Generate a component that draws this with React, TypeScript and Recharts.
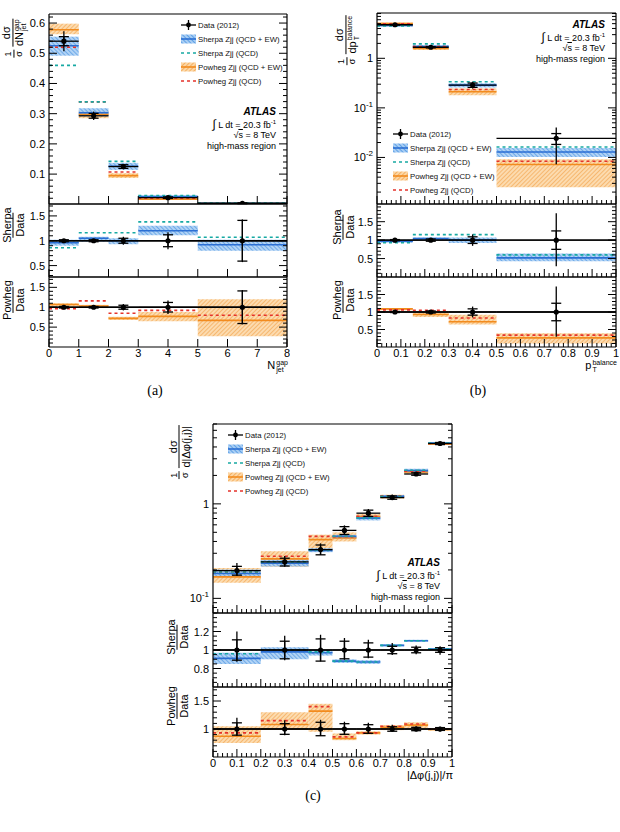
import React from 'react';
import { ComposedChart, XAxis, YAxis, Line, Scatter, ErrorBar, ReferenceArea, ReferenceLine } from 'recharts';

const FONT = '"Liberation Sans", Arial, Helvetica, sans-serif';
const BLUE = '#2b6fd3';
const CYAN = '#17a9a3';
const ORANGE = '#f28b1e';
const RED = '#e5322b';

const legendLabels = ['Data (2012)', 'Sherpa Zjj (QCD + EW)', 'Sherpa Zjj (QCD)', 'Powheg Zjj (QCD + EW)', 'Powheg Zjj (QCD)'];

// ---- (a) N_jet^gap ----
const edgesA = [0, 1, 2, 3, 5, 8];
const xTicksA = [0, 1, 2, 3, 4, 5, 6, 7, 8];
const yTicksA = [0.1, 0.2, 0.3, 0.4, 0.5, 0.6];
const dataA = [0.54, 0.293, 0.125, 0.022, 0.0035];
const errA = [0.033, 0.014, 0.009, 0.004, 0.0015];
const statA = [0.015, 0.008, 0.006, 0.0025, 0.0014];
const sherpaA = [0.525, 0.303, 0.126, 0.026, 0.0032];
const sherpaLoA = [0.492, 0.292, 0.114, 0.023, 0.0028];
const sherpaHiA = [0.555, 0.318, 0.137, 0.029, 0.0036];
const sherpaQcdA = [0.46, 0.339, 0.142, 0.029, 0.0038];
const powhegA = [0.578, 0.298, 0.095, 0.017, 0.0024];
const powhegLoA = [0.563, 0.285, 0.087, 0.0145, 0.001];
const powhegHiA = [0.598, 0.31, 0.103, 0.0195, 0.0042];
const powhegQcdA = [0.52, 0.339, 0.107, 0.0205, 0.0028];
const rErrA = [0.03, 0.03, 0.08, 0.17, 0.43];
const rStatA = [0.02, 0.02, 0.05, 0.12, 0.41];
const rSherpaA = [0.96, 1.05, 1.0, 1.2, 0.92];
const rSherpaLoA = [0.9, 0.98, 0.93, 1.11, 0.8];
const rSherpaHiA = [1.02, 1.08, 1.05, 1.3, 1.02];
const rSherpaQcdA = [0.86, 1.16, 1.16, 1.38, 1.07];
const rPowhegA = [1.07, 1.03, 0.72, 0.77, 0.67];
const rPowhegLoA = [1.02, 1.0, 0.68, 0.65, 0.27];
const rPowhegHiA = [1.1, 1.06, 0.76, 0.88, 1.2];
const rPowhegQcdA = [0.96, 1.16, 0.85, 0.92, 0.8];

// ---- (b) pT balance ----
const edgesB = [0, 0.15, 0.3, 0.5, 1.0];
const xTicksBC = [0, 0.1, 0.2, 0.3, 0.4, 0.5, 0.6, 0.7, 0.8, 0.9, 1];
const yTicksB = [0.01, 0.1, 1];
const dataB = [4.75, 1.67, 0.288, 0.0243];
const errLoB = [0.1, 0.067, 0.043, 0.017];
const errHiB = [0.1, 0.067, 0.049, 0.016];
const statB = [0.07, 0.05, 0.029, 0.006];
const sherpaB = [4.6, 1.72, 0.288, 0.0129];
const sherpaLoB = [4.4, 1.6, 0.258, 0.0102];
const sherpaHiB = [4.85, 1.85, 0.315, 0.0155];
const sherpaQcdB = [4.5, 1.95, 0.337, 0.0162];
const powhegB = [5.0, 1.58, 0.211, 0.0072];
const powhegLoB = [4.75, 1.47, 0.18, 0.0025];
const powhegHiB = [5.25, 1.66, 0.246, 0.0092];
const powhegQcdB = [4.95, 1.72, 0.235, 0.0084];
const rErrLoB = [0.02, 0.04, 0.155, 0.71];
const rErrHiB = [0.02, 0.04, 0.155, 0.73];
const rStatB = [0.015, 0.03, 0.09, 0.25];
const rSherpaB = [0.97, 1.04, 1.0, 0.52];
const rSherpaLoB = [0.93, 1.0, 0.92, 0.43];
const rSherpaHiB = [1.01, 1.07, 1.07, 0.64];
const rSherpaQcdB = [0.93, 1.15, 1.15, 0.6];
const rPowhegB = [1.09, 0.93, 0.72, 0.26];
const rPowhegLoB = [1.05, 0.86, 0.64, 0.1];
const rPowhegHiB = [1.11, 0.98, 0.92, 0.39];
const rPowhegQcdB = [1.06, 1.05, 0.83, 0.34];

// ---- (c) |delta phi(j,j)| / pi ----
const edgesC = [0, 0.2, 0.4, 0.5, 0.6, 0.7, 0.8, 0.9, 1.0];
const yTicksC = [0.1, 1];
const dataC = [0.197, 0.243, 0.328, 0.524, 0.797, 1.166, 2.07, 4.35];
const errLoC = [0.025, 0.027, 0.04, 0.055, 0.072, 0.062, 0.095, 0.22];
const errHiC = [0.039, 0.038, 0.054, 0.068, 0.088, 0.09, 0.1, 0.17];
const statC = [0.021, 0.023, 0.039, 0.05, 0.061, 0.047, 0.062, 0.11];
const sherpaC = [0.183, 0.235, 0.322, 0.453, 0.707, 1.2, 2.25, 4.4];
const sherpaLoC = [0.172, 0.218, 0.308, 0.43, 0.668, 1.15, 2.15, 4.3];
const sherpaHiC = [0.202, 0.257, 0.34, 0.47, 0.748, 1.24, 2.35, 4.52];
const sherpaQcdC = [0.19, 0.243, 0.325, 0.455, 0.71, 1.2, 2.27, 4.4];
const powhegC = [0.169, 0.262, 0.418, 0.435, 0.736, 1.19, 2.17, 4.3];
const powhegLoC = [0.146, 0.216, 0.328, 0.4, 0.7, 1.13, 2.08, 4.2];
const powhegHiC = [0.21, 0.315, 0.472, 0.5, 0.78, 1.25, 2.3, 4.45];
const powhegQcdC = [0.189, 0.279, 0.453, 0.45, 0.74, 1.22, 2.22, 4.35];
const rErrLoC = [0.126, 0.11, 0.123, 0.105, 0.09, 0.053, 0.046, 0.05];
const rErrHiC = [0.2, 0.155, 0.165, 0.13, 0.11, 0.077, 0.05, 0.04];
const rStatC = [0.11, 0.095, 0.12, 0.095, 0.077, 0.04, 0.03, 0.025];
const rSherpaC = [0.91, 0.98, 0.97, 0.88, 0.87, 1.05, 1.1, 1.01];
const rSherpaLoC = [0.85, 0.9, 0.94, 0.86, 0.85, 1.04, 1.09, 1.0];
const rSherpaHiC = [0.97, 1.03, 1.0, 0.9, 0.89, 1.06, 1.11, 1.02];
const rSherpaQcdC = [0.96, 1.0, 0.98, 0.88, 0.87, 1.05, 1.1, 1.01];
const rPowhegC = [0.87, 1.08, 1.32, 0.83, 0.93, 1.03, 1.07, 0.99];
const rPowhegLoC = [0.75, 0.98, 0.95, 0.8, 0.9, 0.98, 1.02, 0.97];
const rPowhegHiC = [1.05, 1.3, 1.45, 0.92, 0.96, 1.07, 1.12, 1.01];
const rPowhegQcdC = [0.93, 1.15, 1.4, 0.86, 0.93, 1.05, 1.09, 1.0];

const ratioTicksAB = [0.5, 1, 1.5];
const ratioTicksCS = [0.8, 1, 1.2];
const ratioTicksCP = [1, 1.5];

const near = (a: number, b: number) => Math.abs(a - b) <= 1e-6 * Math.max(Math.abs(a), Math.abs(b), 1e-9);

function minors(from: number, to: number, step: number, majors: number[]) {
  const out: number[] = [];
  for (let i = 0; from + i * step <= to + 1e-9; i++) {
    const v = +(from + i * step).toFixed(6);
    if (!majors.some((m) => near(m, v))) out.push(v);
  }
  return out;
}

function logMinors(lo: number, hi: number) {
  const out: number[] = [];
  for (let e = Math.floor(Math.log10(lo)); e <= Math.ceil(Math.log10(hi)); e++) {
    for (let k = 2; k <= 9; k++) {
      const v = +(k * Math.pow(10, e)).toPrecision(6);
      if (v >= lo && v <= hi) out.push(v);
    }
  }
  return out;
}

// horizontal per-bin segments, broken by nulls
function segs(edges: number[], vals: number[]) {
  const out: { x: number; y: number | null }[] = [];
  vals.forEach((v, i) => {
    out.push({ x: edges[i], y: v }, { x: edges[i + 1], y: v }, { x: edges[i + 1], y: null });
  });
  return out;
}

function points(edges: number[], y: number[] | null, lo: number[], hi: number[], stat: number[]) {
  return lo.map((_, i) => ({
    x: (edges[i] + edges[i + 1]) / 2,
    y: y ? y[i] : 1,
    ex: (edges[i + 1] - edges[i]) / 2,
    ey: [lo[i], hi[i]],
    es: [stat[i], stat[i]],
  }));
}

const linLab = (v: number) => String(v);
const logLab = (v: number) =>
  near(v, 1) ? '1' : (
    <>
      10<tspan dy={-5} fontSize={8}>{Math.round(Math.log10(v))}</tspan>
    </>
  );

function tickFn(side: 'b' | 't' | 'l' | 'r', maj: number[], lab?: (v: number) => React.ReactNode) {
  return (p: any) => {
    const v = p.payload.value;
    const isMaj = maj.some((m) => near(m, v));
    const len = isMaj ? 8 : 4;
    const x = p.x;
    const y = p.y;
    let x2 = x;
    let y2 = y;
    if (side === 'b') y2 = y - len;
    else if (side === 't') y2 = y + len;
    else if (side === 'l') x2 = x + len;
    else x2 = x - len;
    return (
      <g>
        <line x1={x} y1={y} x2={x2} y2={y2} stroke="#000" strokeWidth={1} />
        {isMaj && lab && side === 'b' && (
          <text x={x} y={y + 10} textAnchor="middle" fontSize={11} fontFamily={FONT} fill="#000">{lab(v)}</text>
        )}
        {isMaj && lab && side === 'l' && (
          <text x={x - 4} y={y + 4} textAnchor="end" fontSize={11} fontFamily={FONT} fill="#000">{lab(v)}</text>
        )}
      </g>
    );
  };
}

type Model = { c: number[]; lo: number[]; hi: number[]; qcd: number[]; line: string; dash: string; fill: string };

interface SubProps {
  left: number; top: number; w: number; h: number;
  edges: number[]; xDom: [number, number]; xMaj: number[]; xMin: number[]; xLab?: (v: number) => React.ReactNode;
  yDom: [number, number]; log?: boolean; yMaj: number[]; yMin: number[]; yLab: (v: number) => React.ReactNode;
  models: Model[]; pts: ReturnType<typeof points>; ratio?: boolean;
}

const AXIS = { stroke: '#000', strokeWidth: 1.2 };
const dot = (s: any) => <circle cx={s.cx} cy={s.cy} r={2.6} fill="#000" />;

function Sub(p: SubProps) {
  const L = 44;
  const R = 2;
  const B = p.xLab ? 22 : 1;
  const xt = [...p.xMaj, ...p.xMin];
  const yt = [...p.yMaj, ...p.yMin];
  return (
    <div style={{ position: 'absolute', left: p.left - L, top: p.top - 1 }}>
      <ComposedChart width={L + p.w + 1 + R} height={1 + p.h + B} margin={{ top: 0, right: R, bottom: 0, left: 0 }}>
        <XAxis xAxisId="x" dataKey="x" type="number" domain={p.xDom} allowDataOverflow ticks={xt} interval={0}
          tickSize={0} tickMargin={0} tickLine={false} tick={tickFn('b', p.xMaj, p.xLab)} axisLine={AXIS} height={B} />
        <XAxis xAxisId="xt" orientation="top" type="number" domain={p.xDom} allowDataOverflow ticks={xt} interval={0}
          tickSize={0} tickMargin={0} tickLine={false} tick={tickFn('t', p.xMaj)} axisLine={AXIS} height={1} />
        <YAxis yAxisId="y" dataKey="y" type="number" scale={p.log ? 'log' : 'linear'} domain={p.yDom} allowDataOverflow
          ticks={yt} interval={0} tickSize={0} tickMargin={0} tickLine={false} tick={tickFn('l', p.yMaj, p.yLab)} axisLine={AXIS} width={L} />
        <YAxis yAxisId="yr" orientation="right" type="number" scale={p.log ? 'log' : 'linear'} domain={p.yDom} allowDataOverflow
          ticks={yt} interval={0} tickSize={0} tickMargin={0} tickLine={false} tick={tickFn('r', p.yMaj)} axisLine={AXIS} width={1} />
        {p.models.map((m, k) =>
          m.lo.map((lo, i) => (
            <ReferenceArea key={`band-${k}-${i}`} xAxisId="x" yAxisId="y" x1={p.edges[i]} x2={p.edges[i + 1]} y1={lo} y2={m.hi[i]}
              fill={m.fill} fillOpacity={0.9} stroke="none" ifOverflow="hidden" />
          ))
        )}
        {p.models.map((m, k) => (
          <Line key={`c-${k}`} xAxisId="x" yAxisId="y" data={segs(p.edges, m.c)} dataKey="y" stroke={m.line} strokeWidth={1.6}
            dot={false} activeDot={false} isAnimationActive={false} />
        ))}
        {p.models.map((m, k) => (
          <Line key={`q-${k}`} xAxisId="x" yAxisId="y" data={segs(p.edges, m.qcd)} dataKey="y" stroke={m.dash} strokeWidth={1.6}
            strokeDasharray="3 3" dot={false} activeDot={false} isAnimationActive={false} />
        ))}
        {p.ratio && <ReferenceLine xAxisId="x" yAxisId="y" y={1} stroke="#000" strokeWidth={1.3} />}
        <Scatter xAxisId="x" yAxisId="y" data={p.pts} dataKey="y" fill="#000" isAnimationActive={false} shape={dot}>
          <ErrorBar dataKey="ex" direction="x" width={0} stroke="#000" strokeWidth={1.3} isAnimationActive={false} />
          <ErrorBar dataKey="ey" direction="y" width={0} stroke="#000" strokeWidth={1.3} isAnimationActive={false} />
          <ErrorBar dataKey="es" direction="y" width={5} stroke="#000" strokeWidth={1.3} isAnimationActive={false} />
        </Scatter>
      </ComposedChart>
    </div>
  );
}

function Frac({ n, d, fs }: { n: React.ReactNode; d: React.ReactNode; fs: number }) {
  return (
    <span style={{ display: 'inline-flex', flexDirection: 'column', alignItems: 'center', fontSize: fs, lineHeight: `${fs + 1}px` }}>
      <span style={{ padding: '0 1px' }}>{n}</span>
      <span style={{ borderTop: '1px solid #000', padding: '0 1px' }}>{d}</span>
    </span>
  );
}

function Stack({ sup, sub }: { sup: string; sub: string }) {
  return (
    <span style={{ display: 'inline-flex', flexDirection: 'column', fontSize: 7, lineHeight: '7px', verticalAlign: 'middle', marginLeft: 1 }}>
      <span>{sup}</span>
      <span>{sub}</span>
    </span>
  );
}

function Rot({ cx, cy, children }: { cx: number; cy: number; children: React.ReactNode }) {
  return (
    <div style={{ position: 'absolute', left: cx, top: cy, transform: 'translate(-50%,-50%) rotate(-90deg)', whiteSpace: 'nowrap',
      fontFamily: FONT, display: 'flex', alignItems: 'center', gap: 3 }}>
      {children}
    </div>
  );
}

function Sym({ k }: { k: number }) {
  return (
    <svg width={15} height={10} style={{ display: 'block' }}>
      {k === 0 && (
        <>
          <line x1={0} x2={15} y1={5} y2={5} stroke="#000" strokeWidth={1.3} />
          <line x1={7.5} x2={7.5} y1={0} y2={10} stroke="#000" strokeWidth={1.3} />
          <circle cx={7.5} cy={5} r={2.4} fill="#000" />
        </>
      )}
      {k === 1 && (
        <>
          <rect x={0} y={0.5} width={15} height={9} fill="url(#hatchBlue)" />
          <line x1={0} x2={15} y1={5} y2={5} stroke={BLUE} strokeWidth={1.6} />
        </>
      )}
      {k === 2 && <line x1={0} x2={15} y1={5} y2={5} stroke={CYAN} strokeWidth={1.6} strokeDasharray="3 3" />}
      {k === 3 && (
        <>
          <rect x={0} y={0.5} width={15} height={9} fill="url(#hatchOrange)" />
          <line x1={0} x2={15} y1={5} y2={5} stroke={ORANGE} strokeWidth={1.6} />
        </>
      )}
      {k === 4 && <line x1={0} x2={15} y1={5} y2={5} stroke={RED} strokeWidth={1.6} strokeDasharray="3 3" />}
    </svg>
  );
}

function Legend({ x, y }: { x: number; y: number }) {
  return (
    <>
      {legendLabels.map((t, k) => (
        <div key={t} style={{ position: 'absolute', left: x, top: y + k * 14 - 5, display: 'flex', alignItems: 'center', gap: 2,
          fontFamily: FONT, fontSize: 7.8, color: '#111', whiteSpace: 'nowrap', height: 10 }}>
          <Sym k={k} />
          <span>{t}</span>
        </div>
      ))}
    </>
  );
}

function Atlas({ right, top }: { right: number; top: number }) {
  const st = (dy: number): React.CSSProperties => ({
    position: 'absolute', right: 620 - right, top: top + dy, whiteSpace: 'nowrap', fontFamily: FONT, fontSize: 9, lineHeight: '10px', color: '#000',
  });
  return (
    <>
      <div style={{ ...st(0), fontWeight: 'bold', fontStyle: 'italic', fontSize: 10 }}>ATLAS</div>
      <div style={st(12)}>
        <span style={{ fontSize: 12 }}>∫</span> L dt = 20.3 fb<span style={{ fontSize: 6, position: 'relative', top: -4 }}>-1</span>
      </div>
      <div style={st(23)}>√<span style={{ textDecoration: 'overline' }}>s</span> = 8 TeV</div>
      <div style={st(34)}>high-mass region</div>
    </>
  );
}

const sherpaModel = (c: number[], lo: number[], hi: number[], qcd: number[]): Model => ({ c, lo, hi, qcd, line: BLUE, dash: CYAN, fill: 'url(#hatchBlue)' });
const powhegModel = (c: number[], lo: number[], hi: number[], qcd: number[]): Model => ({ c, lo, hi, qcd, line: ORANGE, dash: RED, fill: 'url(#hatchOrange)' });

export default function App() {
  const xMinA: number[] = [];
  const xMinBC = minors(0, 1, 0.02, xTicksBC);
  const domB: [number, number] = [0.00115, 8.2];
  const domC: [number, number] = [0.07, 7];

  return (
    <div style={{ position: 'absolute', left: 0, top: 0, width: 620, height: 832, background: '#fff', overflow: 'hidden' }}>
      <svg width={0} height={0} style={{ position: 'absolute' }}>
        <defs>
          <pattern id="hatchBlue" width={3} height={3} patternUnits="userSpaceOnUse" patternTransform="rotate(-45)">
            <rect width={3} height={3} fill="#a9cef4" />
            <line x1={0} y1={0} x2={0} y2={3} stroke="#3f8ee0" strokeWidth={1.4} />
          </pattern>
          <pattern id="hatchOrange" width={3} height={3} patternUnits="userSpaceOnUse" patternTransform="rotate(45)">
            <rect width={3} height={3} fill="#fcd7a6" />
            <line x1={0} y1={0} x2={0} y2={3} stroke="#f39f43" strokeWidth={1.4} />
          </pattern>
        </defs>
      </svg>

      {/* (a) */}
      <Sub left={49} top={14} w={238} h={190} edges={edgesA} xDom={[0, 8]} xMaj={xTicksA} xMin={xMinA}
        yDom={[0.001, 0.63]} yMaj={yTicksA} yMin={minors(0.02, 0.62, 0.02, yTicksA)} yLab={linLab}
        models={[powhegModel(powhegA, powhegLoA, powhegHiA, powhegQcdA), sherpaModel(sherpaA, sherpaLoA, sherpaHiA, sherpaQcdA)]}
        pts={points(edgesA, dataA, errA, errA, statA)} />
      <Sub left={49} top={204} w={238} h={73} edges={edgesA} xDom={[0, 8]} xMaj={xTicksA} xMin={xMinA}
        yDom={[0.27, 1.74]} yMaj={ratioTicksAB} yMin={minors(0.3, 1.7, 0.1, ratioTicksAB)} yLab={linLab}
        models={[sherpaModel(rSherpaA, rSherpaLoA, rSherpaHiA, rSherpaQcdA)]}
        pts={points(edgesA, null, rErrA, rErrA, rStatA)} ratio />
      <Sub left={49} top={277} w={238} h={70} edges={edgesA} xDom={[0, 8]} xMaj={xTicksA} xMin={xMinA} xLab={linLab}
        yDom={[0, 1.76]} yMaj={ratioTicksAB} yMin={minors(0.1, 1.7, 0.1, ratioTicksAB)} yLab={linLab}
        models={[powhegModel(rPowhegA, rPowhegLoA, rPowhegHiA, rPowhegQcdA)]}
        pts={points(edgesA, null, rErrA, rErrA, rStatA)} ratio />

      {/* (b) */}
      <Sub left={377} top={13} w={239} h={191} edges={edgesB} xDom={[0, 1]} xMaj={xTicksBC} xMin={xMinBC}
        yDom={domB} log yMaj={yTicksB} yMin={logMinors(domB[0], domB[1])} yLab={logLab}
        models={[powhegModel(powhegB, powhegLoB, powhegHiB, powhegQcdB), sherpaModel(sherpaB, sherpaLoB, sherpaHiB, sherpaQcdB)]}
        pts={points(edgesB, dataB, errLoB, errHiB, statB)} />
      <Sub left={377} top={204} w={239} h={73} edges={edgesB} xDom={[0, 1]} xMaj={xTicksBC} xMin={xMinBC}
        yDom={[0, 1.98]} yMaj={ratioTicksAB} yMin={minors(0.1, 1.9, 0.1, ratioTicksAB)} yLab={linLab}
        models={[sherpaModel(rSherpaB, rSherpaLoB, rSherpaHiB, rSherpaQcdB)]}
        pts={points(edgesB, null, rErrLoB, rErrHiB, rStatB)} ratio />
      <Sub left={377} top={277} w={239} h={70} edges={edgesB} xDom={[0, 1]} xMaj={xTicksBC} xMin={xMinBC} xLab={linLab}
        yDom={[0, 2]} yMaj={ratioTicksAB} yMin={minors(0.1, 1.9, 0.1, ratioTicksAB)} yLab={linLab}
        models={[powhegModel(rPowhegB, rPowhegLoB, rPowhegHiB, rPowhegQcdB)]}
        pts={points(edgesB, null, rErrLoB, rErrHiB, rStatB)} ratio />

      {/* (c) */}
      <Sub left={213} top={424} w={239} h={189} edges={edgesC} xDom={[0, 1]} xMaj={xTicksBC} xMin={xMinBC}
        yDom={domC} log yMaj={yTicksC} yMin={logMinors(domC[0], domC[1])} yLab={logLab}
        models={[powhegModel(powhegC, powhegLoC, powhegHiC, powhegQcdC), sherpaModel(sherpaC, sherpaLoC, sherpaHiC, sherpaQcdC)]}
        pts={points(edgesC, dataC, errLoC, errHiC, statC)} />
      <Sub left={213} top={613} w={239} h={74} edges={edgesC} xDom={[0, 1]} xMaj={xTicksBC} xMin={xMinBC}
        yDom={[0.6, 1.4]} yMaj={ratioTicksCS} yMin={minors(0.65, 1.35, 0.05, ratioTicksCS)} yLab={linLab}
        models={[sherpaModel(rSherpaC, rSherpaLoC, rSherpaHiC, rSherpaQcdC)]}
        pts={points(edgesC, null, rErrLoC, rErrHiC, rStatC)} ratio />
      <Sub left={213} top={687} w={239} h={70} edges={edgesC} xDom={[0, 1]} xMaj={xTicksBC} xMin={xMinBC} xLab={linLab}
        yDom={[0.5, 1.75]} yMaj={ratioTicksCP} yMin={minors(0.6, 1.7, 0.1, ratioTicksCP)} yLab={linLab}
        models={[powhegModel(rPowhegC, rPowhegLoC, rPowhegHiC, rPowhegQcdC)]}
        pts={points(edgesC, null, rErrLoC, rErrHiC, rStatC)} ratio />

      {/* legends and labels */}
      <Legend x={181} y={25} />
      <Legend x={393} y={134} />
      <Legend x={228} y={435} />
      <Atlas right={276} top={107} />
      <Atlas right={605} top={20} />
      <Atlas right={440} top={558} />

      <Rot cx={14} cy={38}>
        <Frac n="1" d="σ" fs={9} />
        <Frac n="dσ" d={<>dN<Stack sup="gap" sub="jet" /></>} fs={11} />
      </Rot>
      <Rot cx={13} cy={225}><Frac n="Sherpa" d="Data" fs={11} /></Rot>
      <Rot cx={13} cy={300}><Frac n="Powheg" d="Data" fs={11} /></Rot>

      <Rot cx={347} cy={40}>
        <Frac n="1" d="σ" fs={9} />
        <Frac n="dσ" d={<>dp<Stack sup="balance" sub="T" /></>} fs={11} />
      </Rot>
      <Rot cx={343} cy={227}><Frac n="Sherpa" d="Data" fs={11} /></Rot>
      <Rot cx={343} cy={300}><Frac n="Powheg" d="Data" fs={11} /></Rot>

      <Rot cx={179} cy={452}>
        <Frac n="1" d="σ" fs={9} />
        <Frac n="dσ" d="d|Δφ(j,j)|" fs={11} />
      </Rot>
      <Rot cx={177} cy={637}><Frac n="Sherpa" d="Data" fs={11} /></Rot>
      <Rot cx={177} cy={706}><Frac n="Powheg" d="Data" fs={11} /></Rot>

      <div style={{ position: 'absolute', right: 620 - 288, top: 359, fontFamily: FONT, fontSize: 11, whiteSpace: 'nowrap' }}>
        N<Stack sup="gap" sub="jet" />
      </div>
      <div style={{ position: 'absolute', right: 620 - 617, top: 359, fontFamily: FONT, fontSize: 11, whiteSpace: 'nowrap' }}>
        p<Stack sup="balance" sub="T" />
      </div>
      <div style={{ position: 'absolute', right: 620 - 453, top: 769, fontFamily: FONT, fontSize: 11, whiteSpace: 'nowrap' }}>
        |Δφ(j,j)|/π
      </div>

      <div style={{ position: 'absolute', left: 155, top: 383, transform: 'translateX(-50%)', fontFamily: '"Liberation Serif", "DejaVu Serif", serif', fontSize: 14 }}>(a)</div>
      <div style={{ position: 'absolute', left: 478, top: 383, transform: 'translateX(-50%)', fontFamily: '"Liberation Serif", "DejaVu Serif", serif', fontSize: 14 }}>(b)</div>
      <div style={{ position: 'absolute', left: 313, top: 788, transform: 'translateX(-50%)', fontFamily: '"Liberation Serif", "DejaVu Serif", serif', fontSize: 14 }}>(c)</div>
    </div>
  );
}
